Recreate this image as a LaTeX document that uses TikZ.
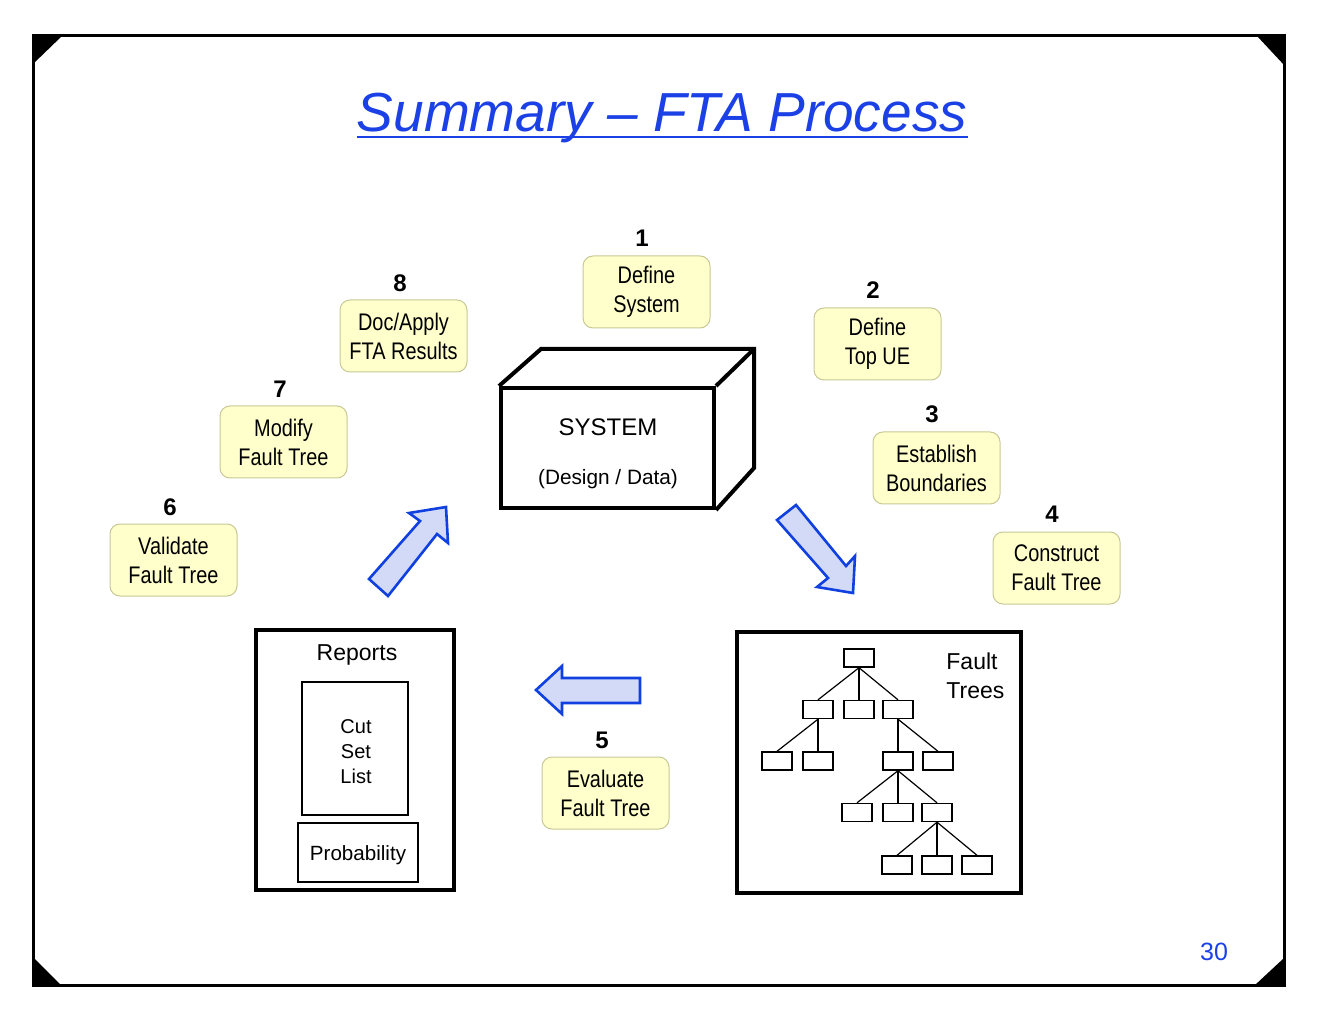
\documentclass[tikz,border=0pt]{standalone}
\usepackage{fontspec}
\setmainfont{Liberation Sans}
\newfontfamily\narrowfont{Liberation Sans}[FakeStretch=0.83]
\usetikzlibrary{calc}
\definecolor{stepfill}{RGB}{255,255,204}
\definecolor{stepedge}{RGB}{200,200,150}
\definecolor{titleblue}{RGB}{26,64,230}
\definecolor{arrowfill}{RGB}{210,218,248}
\definecolor{arrowedge}{RGB}{16,64,224}
\begin{document}
\begin{tikzpicture}[x=0.5pt,y=-0.5pt,
  stepbox/.style={draw=stepedge, fill=stepfill, rounded corners=5pt,
    minimum width=63.5pt, minimum height=36pt, inner sep=0pt, align=center,
    line width=0.5pt, font=\narrowfont\fontsize{12}{14.5}\selectfont},
  stepnum/.style={inner sep=0pt, font=\bfseries\fontsize{12}{14}\selectfont},
  blockarrow/.style={draw=arrowedge, fill=arrowfill, line width=1.3pt, line join=miter},
  ftbox/.style={draw, minimum width=15pt, minimum height=9pt, inner sep=0pt, line width=0.7pt},
  ftlink/.style={line width=0.6pt},
  heavy/.style={line width=2pt, line join=miter},
  corner/.style={fill=black}]
\useasboundingbox (0,0) rectangle (1320,1020);

% slide frame with cut corners
\draw[line width=1.5pt] (33,36) rectangle (1284,985);
\fill[corner] (33,36) -- (62,36) -- (33,64) -- cycle;
\fill[corner] (1257,36) -- (1284,36) -- (1284,65) -- cycle;
\fill[corner] (33,957) -- (33,985) -- (61,985) -- cycle;
\fill[corner] (1284,958) -- (1284,985) -- (1255,985) -- cycle;

% title
\node[inner sep=0pt, anchor=base, text=titleblue,
  font=\itshape\fontsize{27.5}{32}\selectfont] (title) at (662,132) {Summary -- FTA Process};
\draw[titleblue, line width=1pt] ($(title.base west)+(0,5)$) -- ($(title.base east)+(0,5)$);

% system block
\node[draw, heavy, minimum width=106.5pt, minimum height=60pt, inner sep=0pt] (sys) at (607.5,448) {};
\coordinate (backtl) at (541,349);
\coordinate (backtr) at (754,349);
\coordinate (backbr) at (754,468);
\draw[heavy] (sys.north west) -- (backtl) -- (backtr) -- (backbr) -- (sys.south east);
\draw[heavy] (sys.north east) -- (backtr);
\node[font=\fontsize{12}{14}\selectfont] (systxt) at (608,427) {SYSTEM};
\node[font=\fontsize{10.4}{12}\selectfont] (systxt2) at (608,479) {(Design / Data)};

% process steps
\node[stepbox] (s1) at (646.5,292) {Define\\System};
\node[stepbox] (s2) at (877.5,344) {Define\\Top UE};
\node[stepbox] (s3) at (936.5,468) {Establish\\Boundaries};
\node[stepbox] (s4) at (1056.5,568) {Construct\\Fault Tree};
\node[stepbox] (s5) at (605.5,793) {Evaluate\\Fault Tree};
\node[stepbox] (s6) at (173.5,560) {Validate\\Fault Tree};
\node[stepbox] (s7) at (283.5,442) {Modify\\Fault Tree};
\node[stepbox] (s8) at (403.5,336) {Doc/Apply\\FTA Results};

\node[stepnum] (n1) at (642,238) {1};
\node[stepnum] (n2) at (873,290) {2};
\node[stepnum] (n3) at (932,414) {3};
\node[stepnum] (n4) at (1052,514) {4};
\node[stepnum] (n5) at (602,740) {5};
\node[stepnum] (n6) at (170,507) {6};
\node[stepnum] (n7) at (280,389) {7};
\node[stepnum] (n8) at (400,283) {8};

% block arrows
\draw[blockarrow] (369,579) -- (420,521) -- (409,513) -- (446,507) -- (448,543) -- (437,534) -- (388,596) -- cycle;
\draw[blockarrow] (777,520) -- (796,505) -- (846,566) -- (855,556) -- (853,593) -- (817,587) -- (828,578) -- cycle;
\draw[blockarrow] (536,690) -- (562,666) -- (562,678) -- (640,678) -- (640,703) -- (562,703) -- (562,714) -- cycle;

% reports
\node[draw, heavy, minimum width=99pt, minimum height=130pt, inner sep=0pt] (rep) at (355,760) {};
\node[font=\fontsize{11.5}{13}\selectfont] (reptxt) at (357,655) {Reports};
\node[draw, line width=0.7pt, minimum width=53pt, minimum height=66.5pt, inner sep=0pt,
  align=center, font=\fontsize{10}{12.5}\selectfont] (cut) at (355,748.5) {};
\node[align=center, inner sep=0pt, font=\fontsize{10}{12.5}\selectfont] (cuttxt) at (356,752) {Cut\\Set\\List};
\node[draw, line width=0.7pt, minimum width=60pt, minimum height=29.5pt, inner sep=0pt] (prob) at (358,852.5) {};
\node[inner sep=0pt, font=\fontsize{10.3}{12}\selectfont] (probtxt) at (358,855) {Probability};

% fault trees panel
\node[draw, heavy, minimum width=142pt, minimum height=130.5pt, inner sep=0pt] (ftp) at (879,762.5) {};
\node[anchor=north west, inner sep=0pt, align=left, font=\fontsize{11.5}{14.5}\selectfont] (fttxt) at (946,652) {Fault\\Trees};

\node[ftbox] (t0) at (859,658) {};
\node[ftbox] (ta) at (818,709.5) {};
\node[ftbox] (tb) at (859,709.5) {};
\node[ftbox] (tc) at (898,709.5) {};
\node[ftbox] (ta1) at (777,761) {};
\node[ftbox] (ta2) at (818,761) {};
\node[ftbox] (tc1) at (898,761) {};
\node[ftbox] (tc2) at (938,761) {};
\node[ftbox] (td1) at (857,812.5) {};
\node[ftbox] (td2) at (898,812.5) {};
\node[ftbox] (td3) at (937,812.5) {};
\node[ftbox] (te1) at (897,865) {};
\node[ftbox] (te2) at (937,865) {};
\node[ftbox] (te3) at (977,865) {};

\foreach \p/\c in {t0/ta, t0/tb, t0/tc, ta/ta1, ta/ta2, tc/tc1, tc/tc2,
                   tc1/td1, tc1/td2, tc1/td3, td3/te1, td3/te2, td3/te3}
  \draw[ftlink] (\p.south) -- (\c.north);

% page number
\node[text=titleblue, font=\fontsize{12.5}{14}\selectfont] (page) at (1214,952) {30};
\end{tikzpicture}
\end{document}
